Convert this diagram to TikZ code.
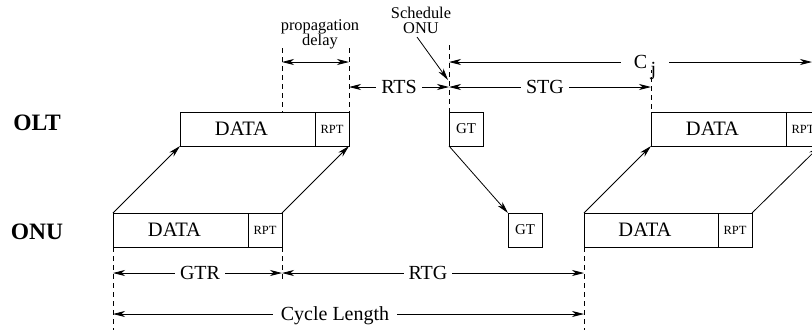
\documentclass[tikz,border=0pt]{standalone}
\usepackage{fontspec}
\setmainfont{Liberation Serif}
\usetikzlibrary{arrows.meta}
\begin{document}
\begin{tikzpicture}[x=1pt,y=-1pt,
  tip/.tip={Stealth[length=12pt,width=6pt,inset=3.5pt]},
  box/.style={draw, line width=0.8pt, anchor=north west, minimum height=34pt, inner sep=0pt, outer sep=0pt},
  databox/.style={box, font=\fontsize{20.5}{20.5}\selectfont},
  rptbox/.style={box, minimum width=34pt, font=\fontsize{12.5}{12.5}\selectfont},
  gtbox/.style={box, minimum width=34pt, font=\fontsize{15}{15}\selectfont},
  arr/.style={line width=0.8pt, -tip},
  dim/.style={line width=0.8pt, tip-tip},
  guide/.style={line width=0.6pt, dash pattern=on 5pt off 4pt},
  lbl/.style={fill=white, inner xsep=5pt, inner ysep=1pt, text height=13pt, text depth=0pt, font=\fontsize{20}{20}\selectfont},
  small/.style={align=center, font=\fontsize{16.4}{15}\selectfont},
  side/.style={font=\fontsize{23.5}{23.5}\selectfont\bfseries}
]
\useasboundingbox (0,0) rectangle (812,330);

% side labels
\node[side] (olt) at (37,123) {OLT};
\node[side] (onu) at (37,232) {ONU};

% OLT row
\node[databox, minimum width=135pt] (oltdata1) at (180,112) {DATA\hspace*{12pt}};
\node[rptbox] (oltrpt1) at (oltdata1.north east) {RPT};
\node[gtbox] (gt1) at (449,112) {GT};
\node[databox, minimum width=135pt] (oltdata2) at (651,112) {DATA\hspace*{12pt}};
\node[rptbox] (oltrpt2) at (oltdata2.north east) {RPT};

% ONU row
\node[databox, minimum width=135pt] (onudata1) at (113,213) {DATA\hspace*{12pt}};
\node[rptbox] (onurpt1) at (onudata1.north east) {RPT};
\node[gtbox] (gt2) at (508,213) {GT};
\node[databox, minimum width=134pt] (onudata2) at (584,213) {DATA\hspace*{12pt}};
\node[rptbox] (onurpt2) at (onudata2.north east) {RPT};

% transmissions
\draw[arr] (onudata1.north west) -- (oltdata1.south west);
\draw[arr] (onurpt1.north east) -- (oltrpt1.south east);
\draw[arr] (gt1.south west) -- (gt2.north west);
\draw[arr] (onudata2.north west) -- (oltdata2.south west);
\draw[arr] (onurpt2.north east) -- (oltrpt2.south east);

% guide coordinates
\coordinate (gpd) at (282,48);
\coordinate (gpd2) at (282,112);
\coordinate (grpt) at (349,48);
\coordinate (gsch) at (449,45);
\coordinate (gstg) at (651,68);
\coordinate (gcl) at (113,330);
\coordinate (ggtr) at (282,280);
\coordinate (grtg) at (584,330);

\draw[guide] (gpd) -- (gpd2);
\draw[guide] (grpt) -- (oltrpt1.north east);
\draw[guide] (gsch) -- (gt1.north west);
\draw[guide] (gstg) -- (oltdata2.north west);
\draw[guide] (onudata1.south west) -- (gcl);
\draw[guide] (onurpt1.south east) -- (ggtr);
\draw[guide] (onudata2.south west) -- (grtg);

% dimension coordinates
\coordinate (pdA) at (282,62);
\coordinate (pdB) at (349,62);
\coordinate (cjA) at (449,62);
\coordinate (cjB) at (812,62);
\coordinate (rtsA) at (349,87);
\coordinate (rtsB) at (449,87);
\coordinate (stgB) at (651,87);
\coordinate (gtrA) at (113,273);
\coordinate (gtrB) at (282,273);
\coordinate (rtgB) at (584,273);
\coordinate (clA) at (113,314);
\coordinate (clB) at (584,314);

\draw[dim] (pdA) -- (pdB);
\node[small] (pdlbl) at (320,34) {propagation\\delay};

\draw[dim] (cjA) -- (cjB);
\node[lbl, inner xsep=13pt] (cj) at (645,62) {C\,\raisebox{-7pt}{j}};

\draw[dim] (rtsA) -- (rtsB);
\node[lbl] (rts) at (399,87) {RTS};

\draw[dim] (rtsB) -- (stgB);
\node[lbl] (stg) at (545,87) {STG};

\draw[dim] (gtrA) -- (gtrB);
\node[lbl] (gtr) at (200,273) {GTR};

\draw[dim] (gtrB) -- (rtgB);
\node[lbl] (rtg) at (428,273) {RTG};

\draw[dim] (clA) -- (clB);
\node[lbl, inner xsep=8pt] (cl) at (335,314) {Cycle Length};

% schedule ONU
\node[small] (sch) at (421,20) {Schedule\\ONU};
\coordinate (schA) at (417,37);
\coordinate (schB) at (448,80);
\draw[arr] (schA) -- (schB);
\end{tikzpicture}
\end{document}
